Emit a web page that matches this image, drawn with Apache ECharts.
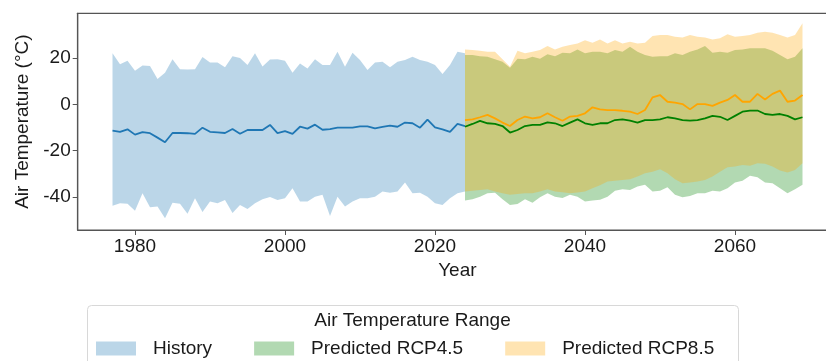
<!DOCTYPE html>
<html><head><meta charset="utf-8">
<script src="https://cdn.jsdelivr.net/npm/echarts@6/dist/echarts.min.js"></script>
<style>html,body{margin:0;padding:0;background:#fff}#c{width:826px;height:361px}</style>
</head><body><div id="c"></div>
<script>
const histYears = [1977,1978,1979,1980,1981,1982,1983,1984,1985,1986,1987,1988,1989,1990,1991,1992,1993,1994,1995,1996,1997,1998,1999,2000,2001,2002,2003,2004,2005,2006,2007,2008,2009,2010,2011,2012,2013,2014,2015,2016,2017,2018,2019,2020,2021,2022,2023,2024];
const histUpper = [22.0,17.3,18.8,14.5,16.8,16.5,10.9,13.6,19.4,15.1,15.0,15.1,20.4,18.0,18.0,16.0,20.8,20.0,17.0,22.0,16.3,19.3,19.4,18.8,13.6,17.6,15.5,19.4,17.0,17.0,22.7,16.2,22.3,19.1,14.8,18.0,18.4,16.0,18.4,19.1,20.5,19.1,18.4,17.0,13.1,17.0,22.7,22.0];
const histLower = [-43.8,-42.7,-43.0,-46.0,-38.4,-44.5,-44.2,-49.2,-42.5,-43.0,-47.3,-40.6,-46.5,-42.0,-42.7,-41.3,-47.0,-43.5,-45.2,-42.7,-41.0,-40.0,-41.3,-40.6,-36.3,-42.0,-42.0,-39.9,-39.1,-48.2,-39.9,-44.2,-42.0,-40.6,-40.6,-39.9,-37.7,-38.2,-37.7,-33.8,-38.4,-38.2,-39.9,-42.7,-43.5,-40.6,-38.4,-37.7];
const histMean = [-11.4,-11.9,-10.8,-13.1,-12.0,-12.5,-14.4,-16.4,-12.4,-12.4,-12.5,-12.8,-10.1,-11.9,-12.1,-12.4,-10.7,-12.7,-11.1,-11.1,-11.1,-8.9,-12.5,-11.6,-12.8,-9.7,-10.5,-8.8,-11.0,-10.7,-10.1,-10.1,-10.1,-9.5,-9.5,-10.4,-9.8,-9.2,-9.7,-7.9,-8.2,-10.1,-6.6,-10.0,-10.8,-11.9,-8.5,-9.4];

const predYears = [2024,2025,2026,2027,2028,2029,2030,2031,2032,2033,2034,2035,2036,2037,2038,2039,2040,2041,2042,2043,2044,2045,2046,2047,2048,2049,2050,2051,2052,2053,2054,2055,2056,2057,2058,2059,2060,2061,2062,2063,2064,2065,2066,2067,2068,2069];
const rcp45Upper = [21.3,21.3,20.8,20.5,19.4,18.4,15.8,19.7,19.4,20.5,19.7,21.6,20.8,22.3,22.0,23.7,22.0,22.7,22.7,22.0,23.4,22.7,24.9,22.7,21.3,20.5,20.8,20.8,22.0,21.3,22.7,23.7,25.2,22.3,22.7,22.3,23.4,23.7,24.2,24.2,24.2,23.1,21.3,19.4,20.5,24.2];
const rcp45Lower = [-41.6,-41.0,-39.9,-38.4,-38.2,-41.0,-43.5,-43.1,-41.0,-42.5,-40.2,-38.4,-39.9,-40.5,-39.1,-39.9,-42.0,-41.6,-41.2,-39.9,-37.3,-36.7,-37.0,-35.5,-34.8,-37.7,-37.3,-35.8,-39.1,-40.2,-39.6,-38.4,-38.4,-37.3,-37.7,-36.3,-33.8,-33.0,-30.9,-31.5,-33.8,-34.1,-36.3,-38.4,-36.7,-34.8];
const rcp45Mean = [-9.7,-8.5,-7.2,-8.2,-8.5,-9.4,-12.2,-11.1,-9.4,-8.9,-8.9,-7.8,-8.2,-9.4,-7.9,-6.5,-8.2,-8.9,-8.2,-8.2,-6.8,-6.5,-7.1,-7.9,-6.8,-6.8,-6.5,-5.6,-6.1,-6.8,-7.1,-6.8,-6.1,-5.0,-5.4,-6.8,-5.0,-3.2,-2.7,-2.7,-4.2,-4.6,-4.2,-5.0,-6.5,-5.6];
const rcp85Upper = [23.7,23.4,23.1,22.7,22.7,19.4,16.2,23.1,22.0,22.7,23.4,25.2,23.7,24.9,25.6,26.3,27.7,26.6,28.0,26.3,27.7,26.3,27.0,26.3,26.6,29.5,29.9,29.9,29.2,28.9,29.9,29.2,28.9,28.0,28.5,30.3,29.2,29.5,29.9,30.9,31.3,30.9,29.9,28.9,29.9,35.0];
const rcp85Lower = [-37.7,-37.3,-37.0,-36.7,-37.7,-38.4,-39.1,-38.8,-38.4,-38.4,-37.7,-36.7,-37.7,-38.0,-38.4,-38.1,-37.7,-36.3,-35.0,-33.4,-33.0,-32.7,-32.4,-31.2,-29.8,-29.1,-28.1,-29.8,-32.4,-34.1,-33.8,-33.4,-32.7,-31.2,-29.1,-27.2,-26.9,-26.2,-26.6,-25.5,-25.7,-26.9,-28.6,-29.5,-28.4,-25.5];
const rcp85Mean = [-6.8,-6.5,-5.6,-4.6,-6.1,-7.9,-9.4,-6.8,-5.3,-6.1,-5.6,-3.9,-5.6,-7.1,-5.3,-5.0,-3.9,-1.3,-2.2,-2.5,-2.5,-2.8,-3.2,-4.2,-2.5,3.0,4.0,1.1,0.7,0.1,-2.2,0.1,0.1,-0.7,0.7,1.9,4.0,1.1,1.1,4.5,2.1,4.5,5.9,1.1,1.6,4.0];

const xTicks = [1980, 2000, 2020, 2040, 2060];
const yTicks = [-40, -20, 0, 20];
const legendNames = ['History', 'Predicted RCP4.5', 'Predicted RCP8.5'];

const FONT = "'Liberation Sans', Arial, sans-serif";
const FS = 19;
const TXT = '#1a1a1a';
const C_HIST = 'rgba(31,119,180,0.3)';
const C_45 = 'rgba(0,128,0,0.3)';
const C_85 = 'rgba(255,165,0,0.3)';

function band(name, xs, lo, hi, color) {
  return {
    type: 'custom', name: name,
    data: xs.map((x, i) => [x, lo[i], hi[i]]),
    itemStyle: { color: color },
    encode: { x: 0, y: [1, 2] },
    silent: true,
    renderItem: function (params, api) {
      if (params.dataIndexInside !== 0) return null;
      const top = xs.map((x, i) => api.coord([x, hi[i]]));
      const bot = xs.map((x, i) => api.coord([x, lo[i]])).reverse();
      return { type: 'polygon', shape: { points: top.concat(bot) }, style: { fill: color } };
    }
  };
}
function meanLine(name, xs, ys, color) {
  return {
    type: 'line', name: name, data: xs.map((x, i) => [x, ys[i]]),
    showSymbol: false, symbol: 'none', silent: true,
    lineStyle: { color: color, width: 1.8 }, itemStyle: { color: color }
  };
}

const chart = echarts.init(document.getElementById('c'), null, { renderer: 'canvas' });
chart.setOption({
  animation: false,
  backgroundColor: '#fff',
  grid: { left: 77.7, top: 13.3, width: 759.3, height: 216.7, outerBoundsMode: 'none', containLabel: false, show: true, borderColor: '#555', borderWidth: 1.2, backgroundColor: 'transparent' },
  xAxis: {
    type: 'value', min: 1972.36, max: 2073.6,
    name: 'Year', nameLocation: 'middle', nameGap: 27,
    nameTextStyle: { fontFamily: FONT, fontSize: FS, color: TXT },
    axisLine: { show: true, onZero: false, lineStyle: { color: '#555', width: 1.2 } },
    axisTick: { show: true, length: 5, lineStyle: { color: '#555' }, customValues: xTicks },
    axisLabel: { fontFamily: FONT, fontSize: FS, color: TXT, margin: 7, customValues: xTicks, formatter: function (v) { return String(v); } },
    splitLine: { show: false }
  },
  yAxis: {
    type: 'value', min: -54.3, max: 39.3,
    name: 'Air Temperature (°C)', nameLocation: 'middle', nameGap: 43,
    nameTextStyle: { fontFamily: FONT, fontSize: FS, color: TXT },
    axisLine: { show: true, onZero: false, lineStyle: { color: '#555', width: 1.2 } },
    axisTick: { show: true, length: 5, lineStyle: { color: '#555' }, customValues: yTicks },
    axisLabel: { fontFamily: FONT, fontSize: FS, color: TXT, margin: 7, customValues: yTicks },
    splitLine: { show: false }
  },
  legend: {
    data: [
      { name: legendNames[0], icon: 'rect', itemStyle: { color: C_HIST } },
      { name: legendNames[1], icon: 'rect', itemStyle: { color: C_45 } },
      { name: legendNames[2], icon: 'rect', itemStyle: { color: C_85 } }
    ],
    left: 96, top: 339, padding: 0, itemGap: 42, itemWidth: 40, itemHeight: 14,
    selectedMode: false,
    textStyle: { fontFamily: FONT, fontSize: FS, color: TXT, padding: [0, 0, 0, 12] }
  },
  graphic: [
    { type: 'rect', shape: { x: 87.5, y: 305.5, width: 651, height: 80, r: 4 }, style: { fill: '#fff', stroke: '#d8d8d8', lineWidth: 1 }, z: -1, silent: true },
    { type: 'text', x: 412.5, y: 321, style: { text: 'Air Temperature Range', font: FS + 'px ' + FONT, fill: TXT, textAlign: 'center', textVerticalAlign: 'middle' }, silent: true }
  ],
  series: [
    band(legendNames[0], histYears, histLower, histUpper, C_HIST),
    meanLine('History mean', histYears, histMean, '#1f77b4'),
    band(legendNames[1], predYears, rcp45Lower, rcp45Upper, C_45),
    meanLine('RCP4.5 mean', predYears, rcp45Mean, '#008000'),
    band(legendNames[2], predYears, rcp85Lower, rcp85Upper, C_85),
    meanLine('RCP8.5 mean', predYears, rcp85Mean, '#ffa500')
  ]
});
</script>
</body></html>
